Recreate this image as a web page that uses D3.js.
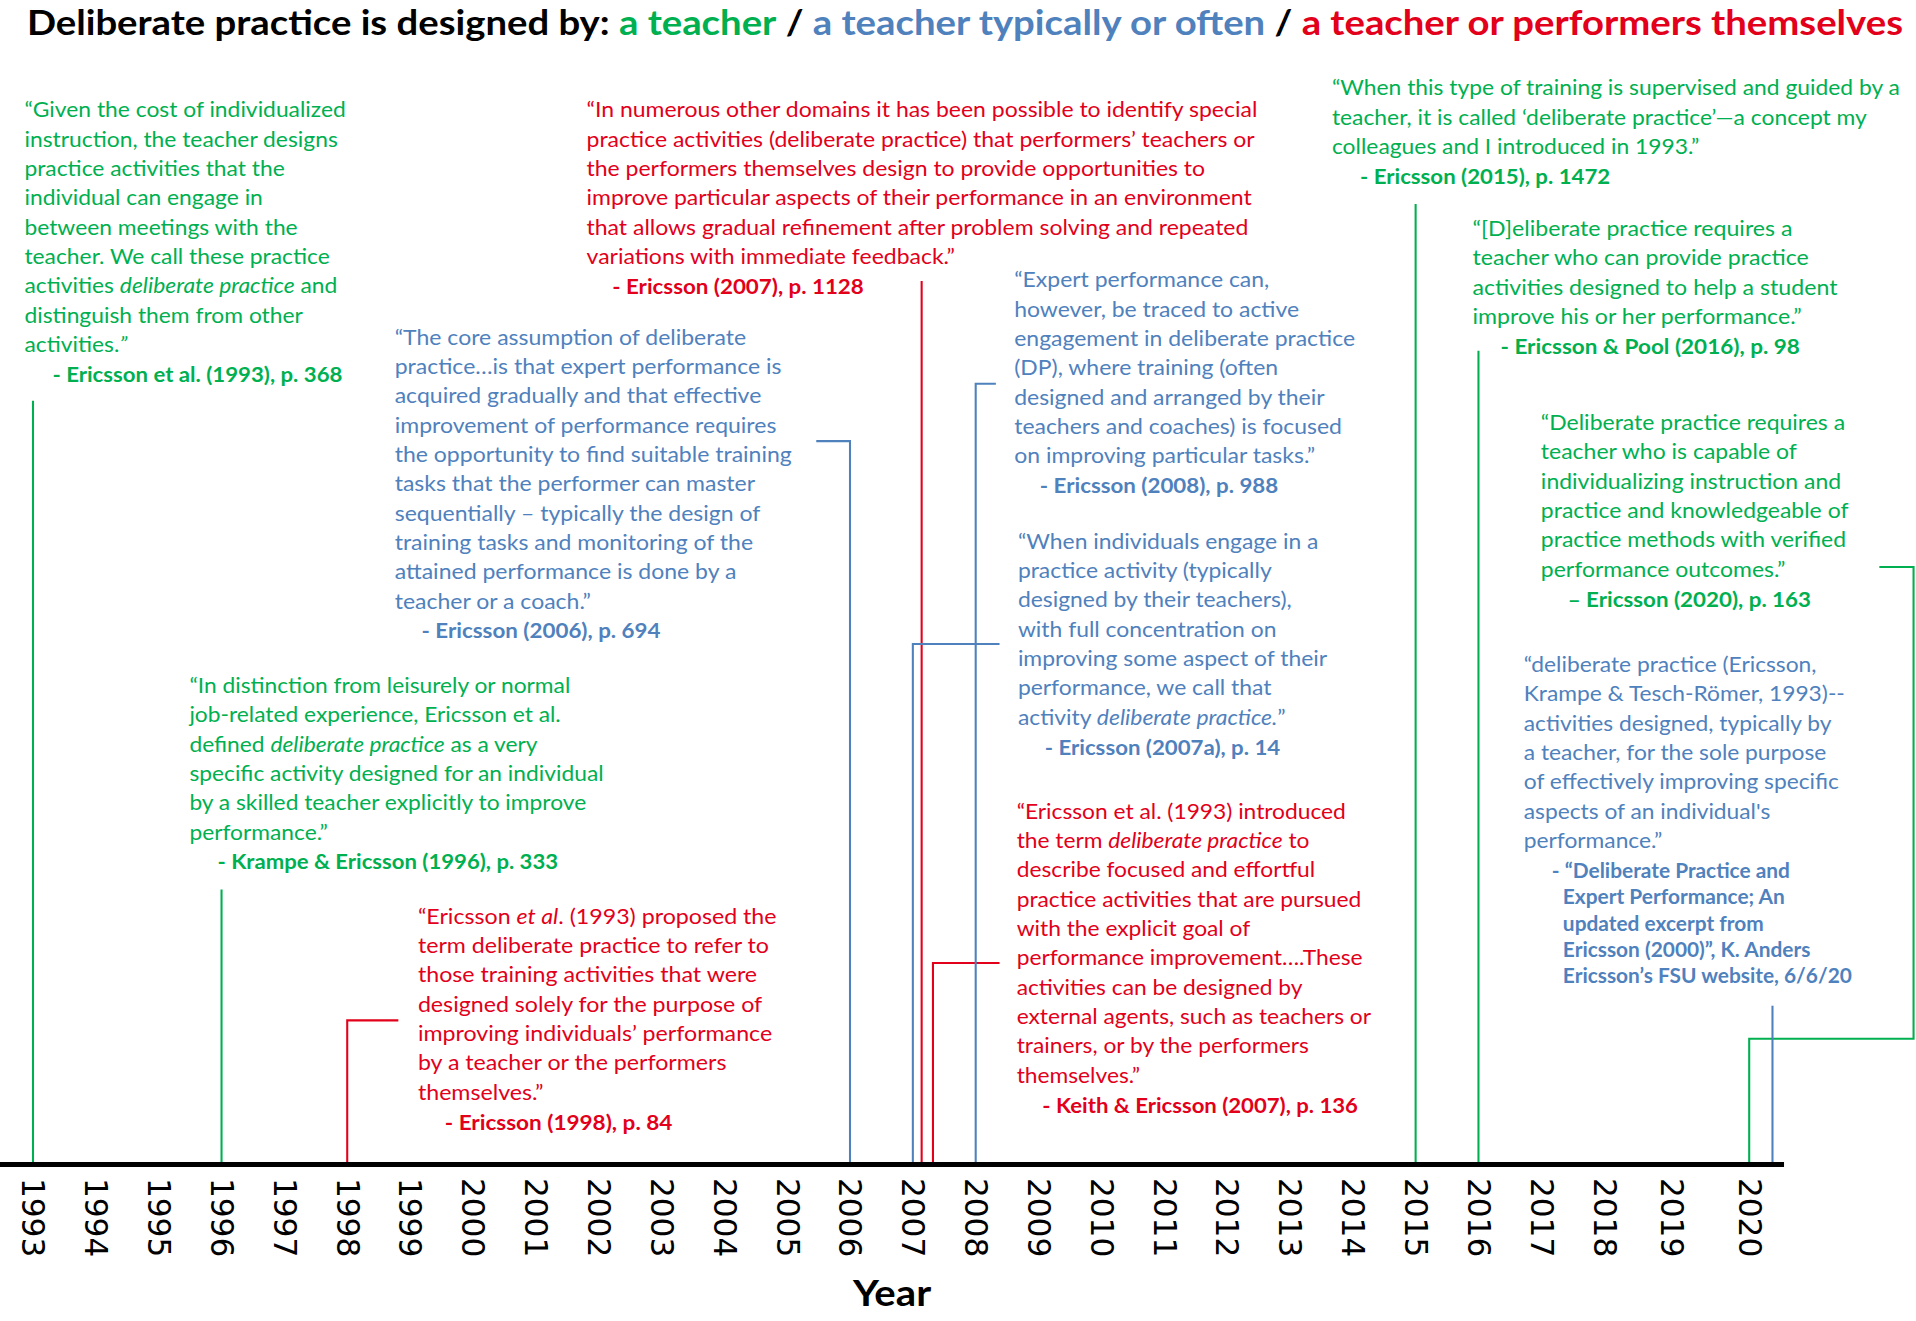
<!DOCTYPE html>
<html>
<head>
<meta charset="UTF-8">
<title>Deliberate practice is designed by ...</title>
<style>
  body { margin: 0; background: #fff; }
  svg { display: block; }
  .quote text { font-family: Lato, "Open Sans", sans-serif; }
  .cite { font-weight: bold; }
  .year-axis text { font-family: "DejaVu Sans", sans-serif; font-size: 25.5px; fill: #000; }
</style>
</head>
<body>
<svg id="chart"></svg>
<script src="https://cdnjs.cloudflare.com/ajax/libs/d3/7.8.5/d3.min.js"></script>
<script>
// tick labels of the time axis
var years = [1993, 1994, 1995, 1996, 1997, 1998, 1999, 2000, 2001, 2002, 2003, 2004, 2005, 2006,
             2007, 2008, 2009, 2010, 2011, 2012, 2013, 2014, 2015, 2016, 2017, 2018, 2019, 2020];

// where each quote hangs on the time axis (a few sit a little after the tick)
var quoteYears = [1993, 1996, 1998, 2006, 2007.14, 2007, 2007.32, 2008, 2015, 2016, 2020, 2020.3];

// who designs deliberate practice, per quote
var quoteGroups = ["teacher", "teacher", "both", "often", "both", "often", "both", "often",
                   "teacher", "teacher", "teacher", "often"];

// quote texts, one string per line, *...* = italic
var quoteLines = [
  ["“Given the cost of individualized", "instruction, the teacher designs", "practice activities that the",
   "individual can engage in", "between meetings with the", "teacher. We call these practice",
   "activities *deliberate practice* and", "distinguish them from other", "activities.*”*"],
  ["“In distinction from leisurely or normal", "job-related experience, Ericsson et al.",
   "defined *deliberate practice* as a very", "specific activity designed for an individual",
   "by a skilled teacher explicitly to improve", "performance.”"],
  ["“Ericsson *et al*. (1993) proposed the", "term deliberate practice to refer to",
   "those training activities that were", "designed solely for the purpose of",
   "improving individuals’ performance", "by a teacher or the performers", "themselves.”"],
  ["“The core assumption of deliberate", "practice…is that expert performance is",
   "acquired gradually and that effective", "improvement of performance requires",
   "the opportunity to find suitable training", "tasks that the performer can master",
   "sequentially – typically the design of", "training tasks and monitoring of the",
   "attained performance is done by a", "teacher or a coach.”"],
  ["“In numerous other domains it has been possible to identify special",
   "practice activities (deliberate practice) that performers’ teachers or",
   "the performers themselves design to provide opportunities to",
   "improve particular aspects of their performance in an environment",
   "that allows gradual refinement after problem solving and repeated",
   "variations with immediate feedback.”"],
  ["“When individuals engage in a", "practice activity (typically", "designed by their teachers),",
   "with full concentration on", "improving some aspect of their", "performance, we call that",
   "activity *deliberate practice.*”"],
  ["“Ericsson et al. (1993) introduced", "the term *deliberate practice* to", "describe focused and effortful",
   "practice activities that are pursued", "with the explicit goal of", "performance improvement….These",
   "activities can be designed by", "external agents, such as teachers or", "trainers, or by the performers",
   "themselves.”"],
  ["“Expert performance can,", "however, be traced to active", "engagement in deliberate practice",
   "(DP), where training (often", "designed and arranged by their", "teachers and coaches) is focused",
   "on improving particular tasks.”"],
  ["“When this type of training is supervised and guided by a",
   "teacher, it is called ‘deliberate practice’—a concept my", "colleagues and I introduced in 1993.”"],
  ["“[D]eliberate practice requires a", "teacher who can provide practice",
   "activities designed to help a student", "improve his or her performance.”"],
  ["“Deliberate practice requires a", "teacher who is capable of", "individualizing instruction and",
   "practice and knowledgeable of", "practice methods with verified", "performance outcomes.”"],
  ["“deliberate practice (Ericsson,", "Krampe & Tesch-Römer, 1993)--", "activities designed, typically by",
   "a teacher, for the sole purpose", "of effectively improving specific", "aspects of an individual's",
   "performance.”"]
];

// sources, one string per line
var quoteCites = [
  ["- Ericsson et al. (1993), p. 368"],
  ["- Krampe & Ericsson (1996), p. 333"],
  ["- Ericsson (1998), p. 84"],
  ["- Ericsson (2006), p. 694"],
  ["- Ericsson (2007), p. 1128"],
  ["- Ericsson (2007a), p. 14"],
  ["- Keith & Ericsson (2007),  p. 136"],
  ["- Ericsson (2008), p. 988"],
  ["- Ericsson (2015), p. 1472"],
  ["- Ericsson & Pool (2016), p. 98"],
  ["– Ericsson (2020), p. 163"],
  ["- “Deliberate Practice and", "Expert Performance; An", "updated excerpt from",
   "Ericsson (2000)”, K. Anders", "Ericsson’s FSU website, 6/6/20"]
];

var groupColor = { teacher: "#00b050", often: "#4f81bd", both: "#e2001a" };

// title pieces
var titleParts = [
  ["Deliberate practice is designed by: ", null], ["a teacher", "teacher"], [" / ", null],
  ["a teacher typically or often", "often"], [" / ", null], ["a teacher or performers themselves", "both"]
];

// ---- layout (drawing units, scaled to the page by the viewBox) ----
var W = 1568, H = 1081;
var axisY = 953;
var lineH = 24;
// text block position, where the leader stops rising, its elbow, and the width of one reference line
var layout = [
  { x: 20,   y: 96,  rise: 328, arm: [], fit: [0, 263], cx: 23 },
  { x: 155,  y: 567, rise: 728, arm: [], fit: [3, 339], cx: 23 },
  { x: 342,  y: 756, rise: 835, arm: [[326, 835]], fit: [4, 290], cx: 22 },
  { x: 323,  y: 282, rise: 361, arm: [[668, 361]], fit: [4, 325], cx: 22 },
  { x: 480,  y: 96,  rise: 230, arm: [], fit: [0, 549], cx: 21 },
  { x: 833,  y: 449, rise: 527, arm: [[818, 527]], fit: [4, 253], cx: 22 },
  { x: 832,  y: 670, rise: 788, arm: [[818, 788]], fit: [7, 290], cx: 21 },
  { x: 830,  y: 235, rise: 314, arm: [[815, 314]], fit: [2, 279], cx: 21 },
  { x: 1090, y: 78,  rise: 167, arm: [], fit: [0, 465], cx: 23 },
  { x: 1205, y: 193, rise: 287, arm: [], fit: [0, 262], cx: 23 },
  { x: 1261, y: 352, rise: 850, arm: [[1566, 850], [1566, 464], [1538, 464]], fit: [0, 249], cx: 22 },
  { x: 1247, y: 550, rise: 823, arm: [], fit: [4, 258], cx: 23, citeSize: 16.5, citeGap: 21.5, hang: 9 }
];

var svg = d3.select("#chart")
  .attr("width", 1916)
  .attr("height", 1321)
  .attr("viewBox", "0 0 " + W + " " + H);

// x scale: the last two years were spaced a little wider in the original
var x = d3.scaleLinear()
  .domain([1993, 2018, 2019, 2020])
  .range([27, 1312.8, 1368, 1431.5]);

// write a line with *italic* segments as tspans
function addSegments(textSel, str) {
  str.split("*").forEach(function(seg, k) {
    if (seg === "") return;
    textSel.append("tspan").text(seg).style("font-style", k % 2 ? "italic" : "normal");
  });
}

// title
var title = svg.append("g").attr("class", "quote");
var titleText = title.append("text")
  .style("font-size", "28px")
  .style("font-weight", "bold");
titleParts.forEach(function(p) {
  titleText.append("tspan")
    .attr("fill", p[1] ? groupColor[p[1]] : "#000")
    .style("white-space", "pre")
    .text(p[0]);
});
var ts = 1535 / titleText.node().getComputedTextLength();
title.attr("transform", "translate(22,29) scale(" + ts + ",1)");

// leader lines from the axis up to each quote
svg.append("g").selectAll("path")
  .data(quoteYears)
  .join("path")
  .attr("fill", "none")
  .attr("stroke", function(d, i) { return groupColor[quoteGroups[i]]; })
  .attr("stroke-width", 1.7)
  .attr("d", function(d, i) {
    var L = layout[i];
    var p = d3.path();
    p.moveTo(x(d), axisY);
    p.lineTo(x(d), L.rise);
    L.arm.forEach(function(pt) { p.lineTo(pt[0], pt[1]); });
    return p.toString();
  });

// quote blocks
quoteLines.forEach(function(lines, i) {
  var L = layout[i];
  var g = svg.append("g").attr("class", "quote").attr("fill", groupColor[quoteGroups[i]]);
  lines.forEach(function(line, j) {
    var t = g.append("text")
      .attr("x", 0)
      .attr("y", j * lineH)
      .style("font-size", "18px");
    addSegments(t, line);
  });
  var s = L.fit[1] / g.selectAll("text").nodes()[L.fit[0]].getComputedTextLength();
  var citeSize = L.citeSize || 17.5;
  var citeGap = L.citeGap || 24.5;
  var y0 = (lines.length - 1) * lineH + 24.5;
  quoteCites[i].forEach(function(c, j) {
    g.append("text")
      .attr("class", "cite")
      .attr("x", (L.cx + (j > 0 ? (L.hang || 0) : 0)) / s)
      .attr("y", y0 + j * citeGap)
      .style("font-size", citeSize + "px")
      .text(c);
  });
  g.attr("transform", "translate(" + L.x + "," + L.y + ") scale(" + s + ",1)");
});

// time axis
svg.append("line")
  .attr("x1", 0).attr("x2", 1460)
  .attr("y1", axisY).attr("y2", axisY)
  .attr("stroke", "#000")
  .attr("stroke-width", 4);

var gAxis = svg.append("g")
  .attr("class", "year-axis")
  .attr("transform", "translate(0," + axisY + ")")
  .call(d3.axisBottom(x).tickValues(years).tickFormat(d3.format("d")).tickSize(0));
gAxis.select(".domain").remove();
gAxis.selectAll("text")
  .attr("transform", "rotate(90)")
  .attr("x", 11)
  .attr("y", 0)
  .attr("dy", "0.36em")
  .style("text-anchor", "start");

// axis title
var yl = svg.append("g").attr("class", "quote");
var ylText = yl.append("text")
  .style("font-size", "30px")
  .style("font-weight", "bold")
  .style("text-anchor", "middle")
  .text("Year");
var ys = 64 / ylText.node().getComputedTextLength();
yl.attr("transform", "translate(730,1069) scale(" + ys + ",1)");
</script>
</body>
</html>
